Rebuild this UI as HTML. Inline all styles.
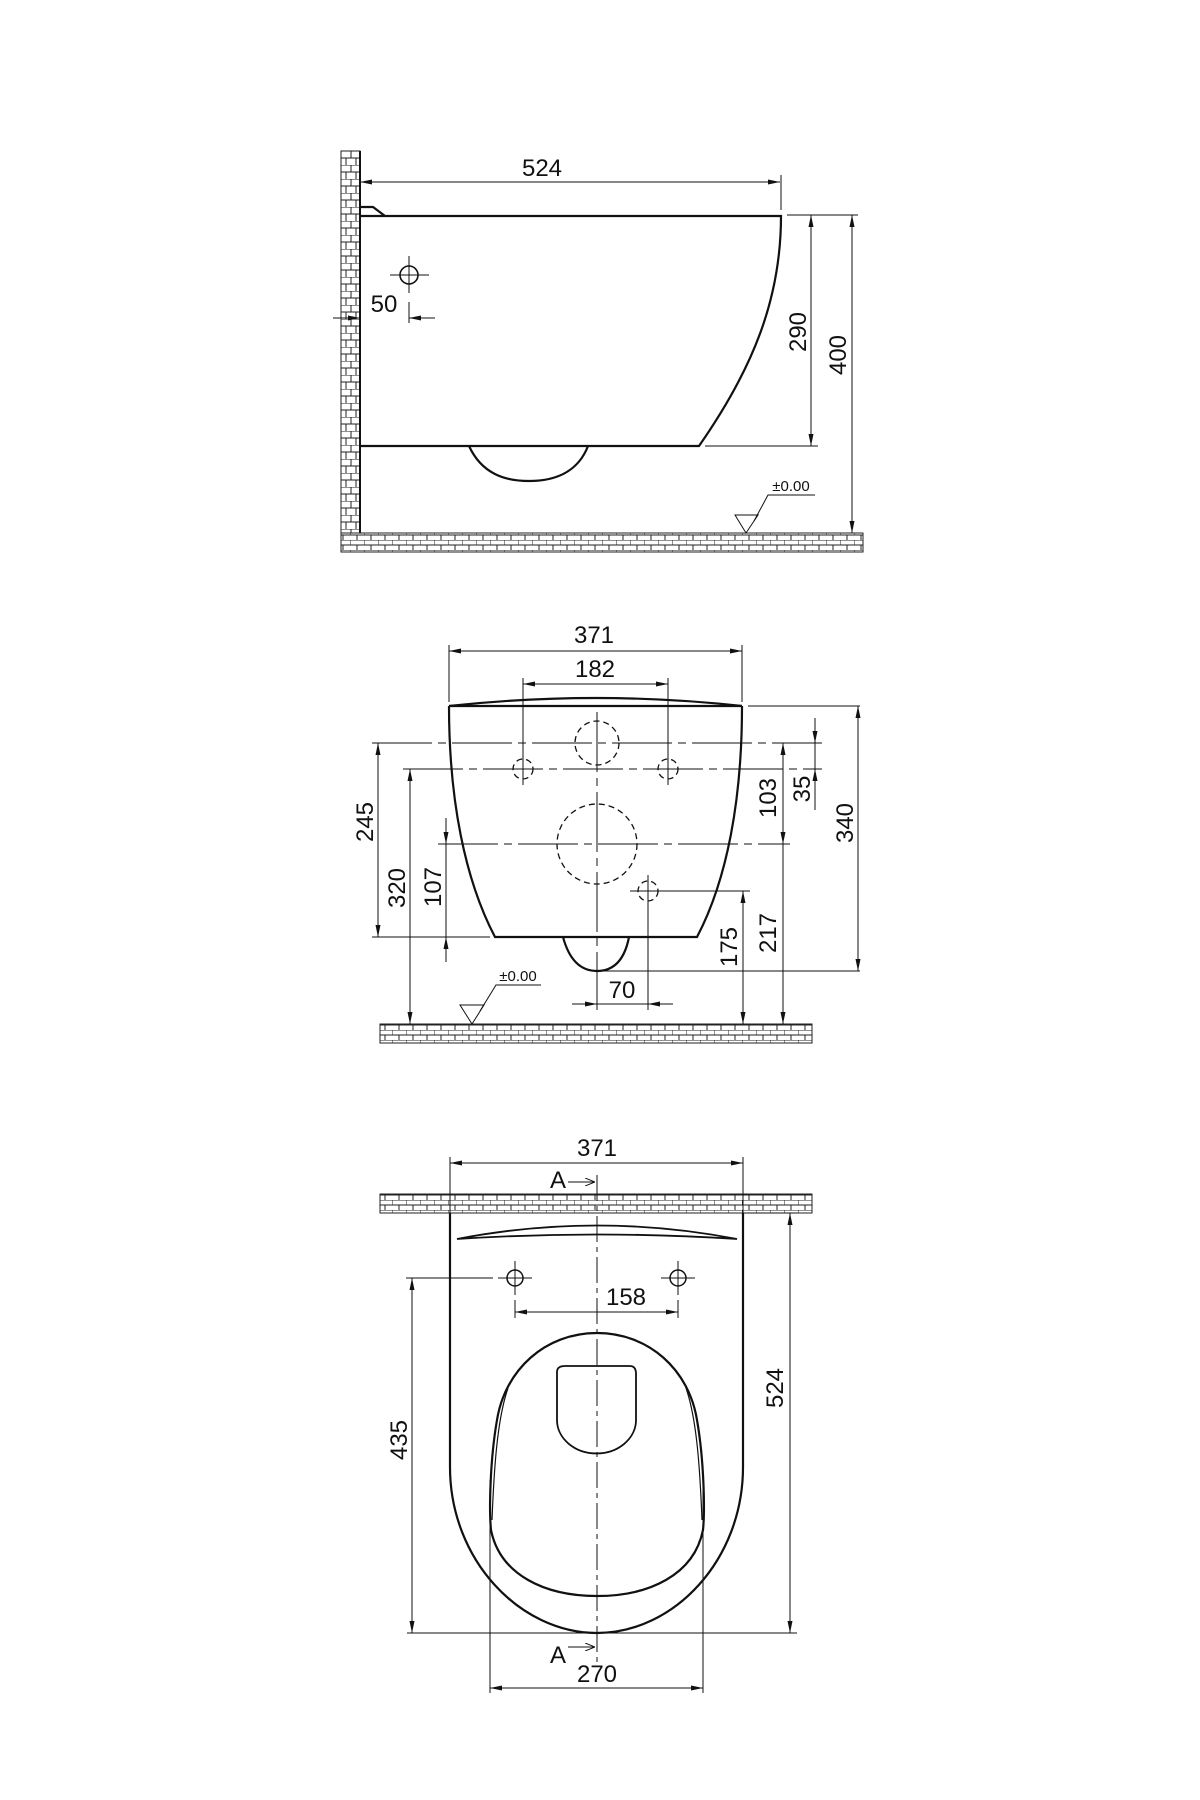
<!DOCTYPE html>
<html><head><meta charset="utf-8"><style>
html,body{margin:0;padding:0;background:#fff;}
svg{display:block}
text{font-family:"Liberation Sans",sans-serif;fill:#111}
</style></head><body>
<svg width="1200" height="1800" viewBox="0 0 1200 1800" xmlns="http://www.w3.org/2000/svg">
<defs>
<pattern id="bv" x="341" y="151" width="20" height="14" patternUnits="userSpaceOnUse">
<rect width="20" height="14" fill="#fff"/>
<path d="M0,0H20M0,7H20M10,0V7M5,7V14M15,7V14" stroke="#222" stroke-width="1" fill="none"/>
</pattern>
<pattern id="bh" x="0" y="0" width="14" height="10" patternUnits="userSpaceOnUse">
<rect width="14" height="10" fill="#fff"/>
<path d="M0,0H14M0,5H14M0,0V5M7,5V10" stroke="#222" stroke-width="1" fill="none"/>
</pattern>
<marker id="a" viewBox="0 0 12 6" refX="12" refY="3" markerWidth="12" markerHeight="6" markerUnits="userSpaceOnUse" orient="auto-start-reverse">
<path d="M0,0.5L12,3L0,5.5Z" fill="#111"/>
</marker>
<marker id="o" viewBox="0 0 10 8" refX="10" refY="4" markerWidth="10" markerHeight="8" markerUnits="userSpaceOnUse" orient="auto">
<path d="M0,0L10,4L0,8" fill="none" stroke="#111" stroke-width="1"/>
</marker>
</defs>

<g stroke="#111" fill="none">
<!-- ===== TOP VIEW ===== -->
<rect x="341" y="151" width="19" height="382" fill="url(#bv)" stroke="#222"/>
<rect x="341" y="533" width="522" height="19" fill="url(#bh)" stroke="#222"/>
<line x1="360" y1="151" x2="360" y2="533" stroke-width="2"/>
<g stroke-width="2.2">
<path d="M360,216 H781 C781,300 752,370 699,446 H360"/>
<path d="M360,207 H373 L385,216"/>
<path d="M469,446 C482,474 505,481 529,481 C555,481 578,472 588,446"/>
</g>
<g stroke-width="1">
<line x1="360" y1="182" x2="780" y2="182" marker-start="url(#a)" marker-end="url(#a)"/>
<line x1="781" y1="175" x2="781" y2="210"/>
<circle cx="409" cy="275" r="9" stroke-width="1.6"/>
<line x1="390" y1="275" x2="429" y2="275"/><line x1="409" y1="256" x2="409" y2="293"/>
<line x1="409" y1="302" x2="409" y2="323"/>
<line x1="333" y1="318" x2="360" y2="318" marker-end="url(#a)"/>
<line x1="435" y1="318" x2="409" y2="318" marker-end="url(#a)"/>
<line x1="787" y1="215" x2="858" y2="215"/>
<line x1="705" y1="446" x2="818" y2="446"/>
<line x1="811" y1="215" x2="811" y2="446" marker-start="url(#a)" marker-end="url(#a)"/>
<line x1="852" y1="215" x2="852" y2="533" marker-start="url(#a)" marker-end="url(#a)"/>
<path d="M735,515 H758 L746,533 Z"/>
<path d="M754,521 L768,495 H815"/>
</g>
<text x="542" y="176" font-size="24" text-anchor="middle" stroke="none">524</text>
<text x="384" y="312" font-size="24" text-anchor="middle" stroke="none">50</text>
<text transform="translate(806,332) rotate(-90)" font-size="24" text-anchor="middle" stroke="none">290</text>
<text transform="translate(846,355) rotate(-90)" font-size="24" text-anchor="middle" stroke="none">400</text>
<text x="791" y="491" font-size="15" text-anchor="middle" stroke="none">±0.00</text>

<!-- ===== FRONT VIEW ===== -->
<rect x="380" y="1024" width="432" height="19" fill="url(#bh)" stroke="#222"/>
<g stroke-width="2.2">
<path d="M449,706 H742 M449,706 C449,800 465,880 495,937 H697 C727,880 742,800 742,706"/>
<path d="M449,706 Q597,690 742,706"/>
<path d="M563,937 C570,963 583,971 597,971 C611,971 624,963 629,937"/>
</g>
<g stroke-width="1">
<line x1="449" y1="645" x2="449" y2="702"/><line x1="742" y1="645" x2="742" y2="702"/>
<line x1="449" y1="651" x2="742" y2="651" marker-start="url(#a)" marker-end="url(#a)"/>
<line x1="523" y1="678" x2="523" y2="785"/><line x1="668" y1="678" x2="668" y2="785"/>
<line x1="523" y1="684" x2="668" y2="684" marker-start="url(#a)" marker-end="url(#a)"/>
<g stroke-dasharray="6,4" stroke-width="1.3">
<circle cx="597" cy="743" r="22"/>
<circle cx="597" cy="844" r="40"/>
<circle cx="523" cy="769" r="10"/><circle cx="668" cy="769" r="10"/><circle cx="648" cy="891" r="10"/>
</g>
<g stroke-dasharray="60,6,8,6">
<line x1="372" y1="743" x2="822" y2="743"/>
<line x1="403" y1="769" x2="822" y2="769"/>
<line x1="438" y1="844" x2="790" y2="844"/>
<line x1="597" y1="712" x2="597" y2="1010"/>
</g>
<line x1="630" y1="891" x2="750" y2="891"/>
<line x1="648" y1="875" x2="648" y2="1010"/>
<line x1="372" y1="937" x2="490" y2="937"/>
<line x1="597" y1="971" x2="860" y2="971"/>
<line x1="748" y1="706" x2="860" y2="706"/>
<line x1="378" y1="937" x2="378" y2="743" marker-end="url(#a)" marker-start="url(#a)"/>
<line x1="410" y1="1024" x2="410" y2="769" marker-end="url(#a)" marker-start="url(#a)"/>
<line x1="446" y1="818" x2="446" y2="844" marker-end="url(#a)"/>
<line x1="446" y1="962" x2="446" y2="937" marker-end="url(#a)"/>
<line x1="446" y1="844" x2="446" y2="937"/>
<line x1="783" y1="844" x2="783" y2="743" marker-end="url(#a)" marker-start="url(#a)"/>
<line x1="783" y1="1024" x2="783" y2="844" marker-start="url(#a)"/>
<line x1="815" y1="718" x2="815" y2="743" marker-end="url(#a)"/>
<line x1="815" y1="810" x2="815" y2="769" marker-end="url(#a)"/>
<line x1="815" y1="743" x2="815" y2="769"/>
<line x1="858" y1="706" x2="858" y2="971" marker-start="url(#a)" marker-end="url(#a)"/>
<line x1="743" y1="891" x2="743" y2="1024" marker-start="url(#a)" marker-end="url(#a)"/>
<line x1="572" y1="1004" x2="597" y2="1004" marker-end="url(#a)"/>
<line x1="673" y1="1004" x2="648" y2="1004" marker-end="url(#a)"/>
<line x1="597" y1="1004" x2="648" y2="1004"/>
<path d="M460,1005 H484 L472,1024 Z"/>
<path d="M480,1011 L496,985 H541"/>
</g>
<text x="594" y="643" font-size="24" text-anchor="middle" stroke="none">371</text>
<text x="595" y="677" font-size="24" text-anchor="middle" stroke="none">182</text>
<text transform="translate(373,822) rotate(-90)" font-size="24" text-anchor="middle" stroke="none">245</text>
<text transform="translate(405,888) rotate(-90)" font-size="24" text-anchor="middle" stroke="none">320</text>
<text transform="translate(441,887) rotate(-90)" font-size="24" text-anchor="middle" stroke="none">107</text>
<text transform="translate(776,798) rotate(-90)" font-size="24" text-anchor="middle" stroke="none">103</text>
<text transform="translate(810,789) rotate(-90)" font-size="24" text-anchor="middle" stroke="none">35</text>
<text transform="translate(853,823) rotate(-90)" font-size="24" text-anchor="middle" stroke="none">340</text>
<text transform="translate(737,947) rotate(-90)" font-size="24" text-anchor="middle" stroke="none">175</text>
<text transform="translate(776,933) rotate(-90)" font-size="24" text-anchor="middle" stroke="none">217</text>
<text x="622" y="998" font-size="24" text-anchor="middle" stroke="none">70</text>
<text x="518" y="981" font-size="15" text-anchor="middle" stroke="none">±0.00</text>

<!-- ===== PLAN VIEW ===== -->
<rect x="380" y="1194" width="432" height="19" fill="url(#bh)" stroke="#222"/>
<g stroke-width="1">
<line x1="450" y1="1157" x2="450" y2="1213"/><line x1="743" y1="1157" x2="743" y2="1213"/>
<line x1="450" y1="1163" x2="743" y2="1163" marker-start="url(#a)" marker-end="url(#a)"/>
<line x1="568" y1="1182" x2="595" y2="1182" marker-end="url(#o)"/>
<line x1="568" y1="1647" x2="595" y2="1647" marker-end="url(#o)"/>
<line x1="597" y1="1175" x2="597" y2="1665" stroke-dasharray="26,5,5,5"/>
<circle cx="515" cy="1278" r="8" stroke-width="1.5"/><circle cx="678" cy="1278" r="8" stroke-width="1.5"/>
<line x1="498" y1="1278" x2="532" y2="1278"/><line x1="515" y1="1261" x2="515" y2="1295"/>
<line x1="661" y1="1278" x2="695" y2="1278"/><line x1="678" y1="1261" x2="678" y2="1295"/>
<line x1="406" y1="1278" x2="493" y2="1278"/>
<line x1="515" y1="1300" x2="515" y2="1318"/><line x1="678" y1="1300" x2="678" y2="1318"/>
<line x1="515" y1="1312" x2="678" y2="1312" marker-start="url(#a)" marker-end="url(#a)"/>
<line x1="412" y1="1633" x2="412" y2="1278" marker-start="url(#a)" marker-end="url(#a)"/>
<line x1="790" y1="1633" x2="790" y2="1213" marker-start="url(#a)" marker-end="url(#a)"/>
<line x1="743" y1="1213" x2="797" y2="1213"/>
<line x1="407" y1="1633" x2="797" y2="1633"/>
<line x1="490" y1="1480" x2="490" y2="1693"/><line x1="703" y1="1480" x2="703" y2="1693"/>
<line x1="490" y1="1688" x2="703" y2="1688" marker-start="url(#a)" marker-end="url(#a)"/>
</g>
<g stroke-width="2.2">
<path d="M450,1213 V1467 C450,1560 520,1633 597,1633 C674,1633 743,1560 743,1467 V1213"/>
<path d="M457,1239 Q597,1212 737,1239 Q597,1230 457,1239 Z" stroke-width="1.8"/>
<path d="M597,1333 C545,1333 505,1370 497,1420 C490,1460 489,1510 491,1530 C500,1575 545,1596 597,1596 C649,1596 694,1575 703,1530 C705,1510 704,1460 697,1420 C689,1370 649,1333 597,1333 Z"/>
<path d="M557,1372 Q557,1366 565,1366 H630 Q636,1366 636,1374 V1420 A39,33 0 0 1 557,1420 Z" stroke-width="1.8"/>
</g>
<g stroke-width="1.2">
<path d="M508,1388 C497,1420 494,1470 492,1520"/>
<path d="M686,1388 C697,1420 700,1470 702,1520"/>
</g>
</g>
<text x="597" y="1156" font-size="24" text-anchor="middle" stroke="none">371</text>
<text x="558" y="1188" font-size="24" text-anchor="middle" stroke="none">A</text>
<text x="626" y="1305" font-size="24" text-anchor="middle" stroke="none">158</text>
<text transform="translate(407,1440) rotate(-90)" font-size="24" text-anchor="middle" stroke="none">435</text>
<text transform="translate(783,1388) rotate(-90)" font-size="24" text-anchor="middle" stroke="none">524</text>
<text x="558" y="1663" font-size="24" text-anchor="middle" stroke="none">A</text>
<text x="597" y="1682" font-size="24" text-anchor="middle" stroke="none">270</text>
</svg>
</body></html>
